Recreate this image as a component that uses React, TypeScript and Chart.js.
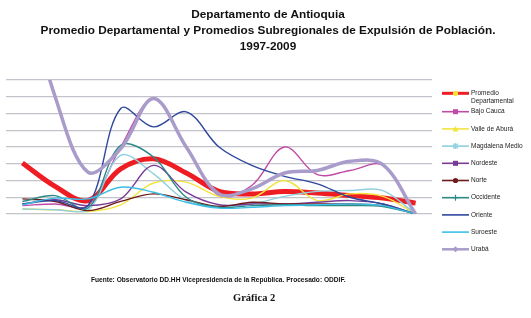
import React, { useEffect, useRef } from 'react';
import { Chart, registerables } from 'chart.js';

Chart.register(...registerables);

const years = ['1997', '1998', '1999', '2000', '2001', '2002', '2003', '2004', '2005', '2006', '2007', '2008', '2009'];

const promedio = [3.05, 1.65, 0.8, 2.7, 3.3, 2.45, 1.35, 1.2, 1.35, 1.25, 1.1, 0.95, 0.65];
const bajoCauca = [0.5, 0.6, 0.5, 4.0, 6.9, 4.0, 1.1, 1.7, 4.0, 2.35, 2.6, 2.9, 0];
const valleAburra = [0.3, 0.25, 0.15, 0.55, 1.85, 1.9, 1.05, 0.95, 2.0, 0.8, 1.2, 1.05, 0];
const magdalenaMedio = [0.3, 0.25, 0.2, 3.5, 2.4, 0.8, 0.45, 0.6, 1.05, 1.35, 1.4, 1.4, 0];
const nordeste = [0.6, 0.85, 0.5, 0.9, 2.9, 1.3, 0.55, 0.6, 0.6, 0.7, 0.8, 0.6, 0];
const norte = [0.9, 0.75, 0.2, 0.75, 1.2, 0.85, 0.45, 0.7, 0.6, 0.6, 0.6, 0.5, 0];
const occidente = [0.75, 1.1, 0.35, 4.1, 3.4, 1.0, 0.4, 0.5, 0.55, 0.5, 0.5, 0.45, 0];
const oriente = [0.6, 0.8, 0.5, 6.3, 5.2, 6.1, 4.0, 2.9, 2.25, 1.8, 1.0, 0.6, 0];
const suroeste = [0.55, 0.95, 0.9, 1.6, 1.3, 0.7, 0.35, 0.4, 0.5, 0.55, 0.6, 0.5, 0];
const uraba = [14, 7.0, 2.5, 3.9, 6.9, 4.0, 1.2, 1.5, 2.45, 2.6, 3.15, 2.95, 0];

const seriesNames = ['Promedio Departamental', 'Bajo Cauca', 'Valle de Aburrá', 'Magdalena Medio', 'Nordeste', 'Norte', 'Occidente', 'Oriente', 'Suroeste', 'Urabá'];
const seriesData = [promedio, bajoCauca, valleAburra, magdalenaMedio, nordeste, norte, occidente, oriente, suroeste, uraba];
const seriesColors = ['#EE1D23', '#C04AA6', '#F2E43E', '#8ECFE0', '#7A3A96', '#6E1B1B', '#2C8A86', '#2F479C', '#3CBFE6', '#A99CCB'];
const seriesWidths = [5, 1.4, 1.4, 1.4, 1.4, 1.4, 1.4, 1.4, 1.4, 3.5];
const markerKinds = ['circle', 'square', 'triangle', 'star', 'squareX', 'circle', 'plus', 'none', 'none', 'diamond'];
const markerColors = ['#F4E23A', '#C04AA6', '#F2E43E', '#8ECFE0', '#7A3A96', '#6E1B1B', '#2C8A86', '#2F479C', '#3CBFE6', '#A99CCB'];
const legendLabels = [['Promedio', 'Departamental'], ['Bajo Cauca'], ['Valle de Aburá'], ['Magdalena Medio'], ['Nordeste'], ['Norte'], ['Occidente'], ['Oriente'], ['Suroeste'], ['Urabá']];

function drawMarker(ctx: CanvasRenderingContext2D, kind: string, x: number, y: number, color: string) {
  ctx.save();
  ctx.fillStyle = color;
  ctx.strokeStyle = color;
  ctx.lineWidth = 1.2;
  ctx.beginPath();
  if (kind === 'circle') {
    ctx.arc(x, y, 2.6, 0, Math.PI * 2);
    ctx.fill();
  } else if (kind === 'square') {
    ctx.fillRect(x - 2.5, y - 2.5, 5, 5);
  } else if (kind === 'triangle') {
    ctx.moveTo(x, y - 3);
    ctx.lineTo(x + 3, y + 2.5);
    ctx.lineTo(x - 3, y + 2.5);
    ctx.closePath();
    ctx.fill();
  } else if (kind === 'star') {
    ctx.moveTo(x - 2.5, y - 2.5); ctx.lineTo(x + 2.5, y + 2.5);
    ctx.moveTo(x + 2.5, y - 2.5); ctx.lineTo(x - 2.5, y + 2.5);
    ctx.moveTo(x, y - 3); ctx.lineTo(x, y + 3);
    ctx.stroke();
  } else if (kind === 'squareX') {
    ctx.fillRect(x - 2.5, y - 2.5, 5, 5);
  } else if (kind === 'plus') {
    ctx.moveTo(x - 3, y); ctx.lineTo(x + 3, y);
    ctx.moveTo(x, y - 3); ctx.lineTo(x, y + 3);
    ctx.stroke();
  } else if (kind === 'diamond') {
    ctx.moveTo(x, y - 3); ctx.lineTo(x + 3, y); ctx.lineTo(x, y + 3); ctx.lineTo(x - 3, y);
    ctx.closePath();
    ctx.fill();
  }
  ctx.restore();
}

const legendPlugin = {
  id: 'sideLegend',
  afterDraw(chart: any) {
    const ctx: CanvasRenderingContext2D = chart.ctx;
    const area = chart.chartArea;
    const x0 = area.right + 10;
    const x1 = x0 + 27;
    ctx.save();
    ctx.font = '6.5px "Liberation Sans", Arial, sans-serif';
    ctx.textBaseline = 'middle';
    ctx.fillStyle = '#222';
    legendLabels.forEach((lines, i) => {
      const y = i === 0 ? area.top + 13.3 : area.top + 31.7 + (i - 1) * 17.2;
      ctx.strokeStyle = seriesColors[i];
      ctx.lineWidth = i === 0 ? 3 : i === 9 ? 2.5 : 1.6;
      ctx.beginPath();
      ctx.moveTo(x0, y);
      ctx.lineTo(x1, y);
      ctx.stroke();
      drawMarker(ctx, markerKinds[i], (x0 + x1) / 2, y, markerColors[i]);
      ctx.fillStyle = '#222';
      lines.forEach((t, j) => ctx.fillText(t, x1 + 2, y + j * 8.4));
    });
    ctx.restore();
  },
};

export default function App() {
  const ref = useRef<HTMLCanvasElement>(null);
  useEffect(() => {
    const datasets = seriesNames.map((name, i) => ({
      label: name,
      data: seriesData[i],
      borderColor: seriesColors[i],
      backgroundColor: seriesColors[i],
      borderWidth: seriesWidths[i],
      pointRadius: 0,
      tension: 0.35,
      fill: false,
      order: seriesNames.length - i,
      clip: i === 9 ? 0 : undefined,
    }));
    const chart = new Chart(ref.current as HTMLCanvasElement, {
      type: 'line',
      data: { labels: years, datasets: datasets as any },
      options: {
        responsive: false,
        animation: false,
        layout: { padding: { left: 6, right: 99, top: 80, bottom: 104 } },
        plugins: { legend: { display: false }, tooltip: { enabled: false }, title: { display: false } },
        scales: {
          x: { display: false, offset: true },
          y: {
            min: 0,
            max: 8,
            ticks: { display: false, stepSize: 1 },
            grid: { color: '#c3c3cb', lineWidth: 1.2, drawTicks: false },
            border: { display: false },
          },
        },
      },
      plugins: [legendPlugin],
    });
    return () => chart.destroy();
  }, []);

  const titleStyle: React.CSSProperties = {
    position: 'absolute',
    left: 0,
    width: 536,
    textAlign: 'center',
    fontFamily: '"Liberation Sans", Arial, sans-serif',
    fontWeight: 'bold',
    fontSize: '11.8px',
    lineHeight: '15.5px',
    color: '#111',
    whiteSpace: 'nowrap',
  };

  return (
    <div style={{ position: 'absolute', left: 0, top: 0, width: 531, height: 318, background: '#fff', overflow: 'hidden' }}>
      <canvas ref={ref} width={531} height={318} style={{ display: 'block', position: 'absolute', left: 0, top: 0 }} />
      <div style={{ ...titleStyle, top: 7 }}>Departamento de Antioquia</div>
      <div style={{ ...titleStyle, top: 23 }}>Promedio Departamental y Promedios Subregionales de Expulsión de Población.</div>
      <div style={{ ...titleStyle, top: 38.5 }}>1997-2009</div>
      <div style={{ position: 'absolute', left: 91, top: 276, fontFamily: '"Liberation Sans", Arial, sans-serif', fontWeight: 'bold', fontSize: '6.6px', lineHeight: '8px', whiteSpace: 'nowrap', color: '#111' }}>
        Fuente: Observatorio DD.HH Vicepresidencia de la República. Procesado: ODDIF.
      </div>
      <div style={{ position: 'absolute', left: 233, top: 291, fontFamily: '"Liberation Serif", "Times New Roman", serif', fontWeight: 'bold', fontSize: '10.5px', lineHeight: '13px', whiteSpace: 'nowrap', color: '#111' }}>
        Gráfica 2
      </div>
    </div>
  );
}
